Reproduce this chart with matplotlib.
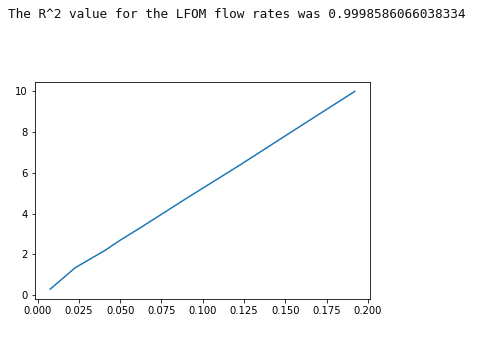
import numpy as np
import matplotlib
matplotlib.use("Agg")
import matplotlib.pyplot as plt

# LFOM flow rate vs. water height
r_squared = "0.9998586066038334"
flow_rates = [0.0077, 0.0228, 0.041, 0.0502, 0.0622, 0.0900, 0.1228, 0.1550, 0.1920]
heights = [0.29, 1.34, 2.20, 2.70, 3.30, 4.74, 6.40, 8.08, 10.0]

fig = plt.figure(figsize=(481 / 72, 337 / 72), dpi=72)
fig.text(8 / 481, 1 - 14 / 337, "The R^2 value for the LFOM flow rates was " + r_squared,
         family="DejaVu Sans Mono", fontsize=12.75, va="center", ha="left", color="#111111")

ax = fig.add_axes([35 / 481, 38 / 337, 335 / 481, 217.5 / 337])
ax.plot(flow_rates, heights)
ax.set_xticks(np.arange(0, 0.201, 0.025))
ax.tick_params(labelsize=10)

fig.savefig("out.png", dpi=72)
